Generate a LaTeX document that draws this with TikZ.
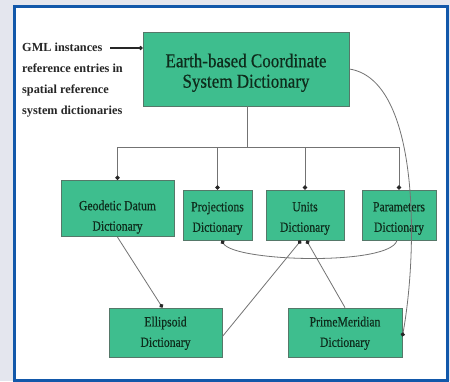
\documentclass[tikz,border=0pt]{standalone}
\usepackage{fontspec}
\usepackage{graphicx}
\setmainfont{Liberation Serif}
\newfontfamily\boxfont{Liberation Serif}[FakeBold=0.6]
\usetikzlibrary{arrows.meta}
\definecolor{boxfill}{RGB}{62,190,142}
\definecolor{boxline}{RGB}{85,120,105}
\definecolor{boxtext}{RGB}{14,44,28}
\definecolor{frameblue}{RGB}{18,88,170}
\definecolor{bgcol}{RGB}{228,230,238}
\definecolor{linecol}{RGB}{115,115,115}
% #1 vertical scale, #2 extra top strut height, #3 lines
\newcommand\talltext[3]{\scalebox{1}[#1]{\begin{tabular}{@{}c@{}}\rule{0pt}{#2}#3\end{tabular}}}
\begin{document}
\begin{tikzpicture}[x=1pt,y=-1pt,
  dictbox/.style={draw=boxline,line width=0.8pt,fill=boxfill,inner sep=0pt,align=center,text=boxtext},
  smallbox/.style={dictbox,font=\boxfont\fontsize{11.7}{17}\selectfont},
  conn/.style={draw=linecol,line width=0.8pt,-{Circle[length=4.2pt,color=black!85]}},
  plain/.style={draw=linecol,line width=0.8pt}]
\useasboundingbox (0,0) rectangle (450,381);
\fill[bgcol] (0,0) rectangle (450,381);
\fill[white] (14.5,6.5) rectangle (447.5,380);
\draw[frameblue,line width=3pt] (14.5,6.5) rectangle (447.5,380);

\node[dictbox,minimum width=206pt,minimum height=74pt,font=\boxfont\fontsize{17}{17.8}\selectfont] (top) at (246,69) {\talltext{1.15}{20pt}{Earth-based Coordinate\\System Dictionary}};

\node[anchor=north west,align=left,inner sep=0pt,font=\fontsize{12.3}{20.8}\selectfont\bfseries,text=black!85] (gml) at (22,43) {GML instances\\reference entries in\\spatial reference\\system dictionaries};
\coordinate (gmlend) at (110,48);
\draw[black!85,line width=1.2pt,-{Circle[length=4pt]}] (gmlend) -- (top.west |- gmlend);

\node[smallbox,minimum width=113pt,minimum height=51pt] (geo) at (117.5,208.5) {\talltext{1.2}{25pt}{Geodetic Datum\\Dictionary}};
\node[smallbox,minimum width=69pt,minimum height=50pt] (proj) at (217.5,215) {\talltext{1.2}{16pt}{Projections\\Dictionary}};
\node[smallbox,minimum width=78pt,minimum height=50pt] (units) at (305,215) {\talltext{1.2}{16pt}{Units\\Dictionary}};
\node[smallbox,minimum width=74pt,minimum height=50pt] (par) at (399,215) {\talltext{1.2}{16pt}{Parameters\\Dictionary}};
\node[smallbox,minimum width=113pt,minimum height=49pt] (ell) at (165.5,332.5) {\talltext{1.2}{12pt}{Ellipsoid\\Dictionary}};
\node[smallbox,minimum width=114pt,minimum height=49pt] (pm) at (345,332.5) {\talltext{1.2}{12pt}{PrimeMeridian\\Dictionary}};

\coordinate (bus) at (247,147);
\draw[plain] (top.south -| bus) -- (bus);
\draw[plain] (geo.north |- bus) -- (par.north |- bus);
\draw[conn] (geo.north |- bus) -- (geo.north);
\draw[conn] (proj.north |- bus) -- (proj.north);
\draw[conn] (units.north |- bus) -- (units.north);
\draw[conn] (par.north |- bus) -- (par.north);

\draw[conn] (geo.south) -- ([xshift=-3pt]ell.north);
\draw[conn] ([yshift=-4pt]ell.east) -- ([xshift=-4pt]units.south);
\draw[conn] (pm.north) -- ([xshift=1.5pt]units.south);
\draw[conn] ([xshift=-2pt]par.south) .. controls (390,266) and (235,262) .. ([xshift=4pt]proj.south);
\draw[conn] (top.east) .. controls (420,80) and (418,250) .. ([yshift=-4pt]pm.east);
\end{tikzpicture}
\end{document}
